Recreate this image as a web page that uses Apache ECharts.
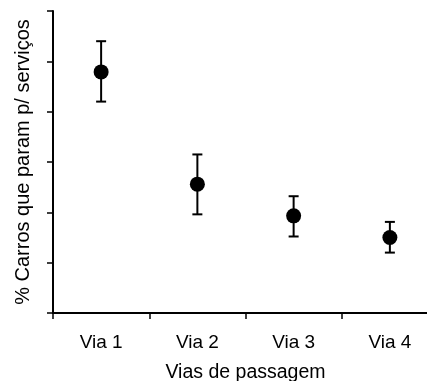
<!DOCTYPE html>
<html>
<head>
<meta charset="utf-8">
<script src="https://cdn.jsdelivr.net/npm/echarts@6/dist/echarts.min.js"></script>
<style>
  html, body { margin: 0; padding: 0; background: #fff; }
  #chart { width: 427px; height: 381px; }
</style>
</head>
<body>
<div id="chart"></div>
<script>
// dados
const categories = ['Via 1', 'Via 2', 'Via 3', 'Via 4'];
const means = [47.9, 25.6, 19.3, 15.0];
const lower = [42.0, 19.6, 15.2, 12.0];
const upper = [54.0, 31.5, 23.2, 18.1];

const FONT = 'Liberation Sans, Arial, sans-serif';

const chart = echarts.init(document.getElementById('chart'));

const errorData = categories.map((c, i) => [i, lower[i], upper[i]]);

const option = {
  animation: false,
  grid: {
    left: 53,
    top: 11,
    bottom: 68,
    width: 385,
    outerBoundsMode: 'none'
  },
  xAxis: {
    type: 'category',
    data: categories,
    boundaryGap: true,
    name: 'Vias de passagem',
    nameLocation: 'middle',
    nameGap: 50,
    nameTextStyle: { fontFamily: FONT, fontSize: 19.5, color: '#000' },
    axisLine: { lineStyle: { color: '#000', width: 2 } },
    axisTick: { show: true, length: 6, alignWithLabel: false, lineStyle: { color: '#000', width: 1.5 } },
    axisLabel: { fontFamily: FONT, fontSize: 19, color: '#000', margin: 20 },
    splitLine: { show: false }
  },
  yAxis: {
    type: 'value',
    min: 0,
    max: 60,
    interval: 10,
    name: '% Carros que param p/ serviços',
    nameLocation: 'middle',
    nameGap: 20,
    nameTextStyle: { fontFamily: FONT, fontSize: 20, color: '#000' },
    axisLine: { show: true, lineStyle: { color: '#000', width: 2 } },
    axisTick: { show: true, length: 6, lineStyle: { color: '#000', width: 1.5 } },
    axisLabel: { show: false },
    splitLine: { show: false }
  },
  series: [
    {
      // barras de erro
      type: 'custom',
      data: errorData,
      z: 2,
      renderItem: function (params, api) {
        const x = api.value(0);
        const lo = api.coord([x, api.value(1)]);
        const hi = api.coord([x, api.value(2)]);
        const cap = 5;
        const style = { stroke: '#000', lineWidth: 2 };
        return {
          type: 'group',
          children: [
            { type: 'line', shape: { x1: lo[0], y1: lo[1], x2: hi[0], y2: hi[1] }, style: style },
            { type: 'line', shape: { x1: hi[0] - cap, y1: hi[1], x2: hi[0] + cap, y2: hi[1] }, style: style },
            { type: 'line', shape: { x1: lo[0] - cap, y1: lo[1], x2: lo[0] + cap, y2: lo[1] }, style: style }
          ]
        };
      }
    },
    {
      type: 'scatter',
      data: means,
      symbol: 'circle',
      symbolSize: 15,
      z: 3,
      itemStyle: { color: '#000', opacity: 1 }
    }
  ]
};

chart.setOption(option);
</script>
</body>
</html>
